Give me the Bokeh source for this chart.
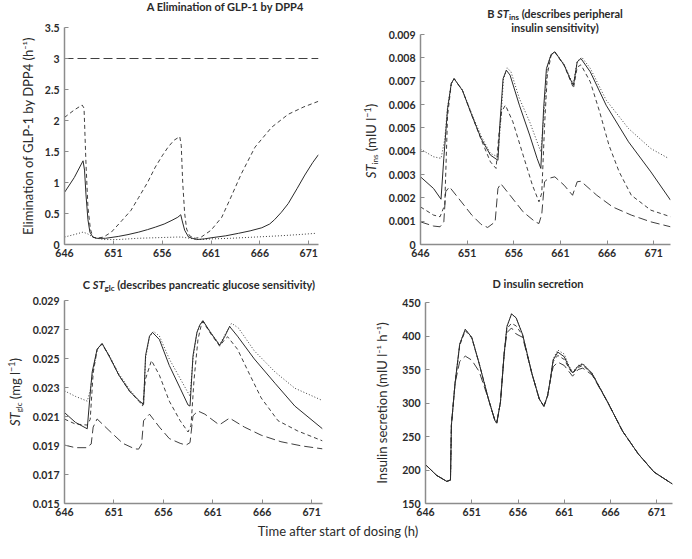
from bokeh.plotting import figure
from bokeh.models import FixedTicker, Div
from bokeh.layouts import row, column
from bokeh.embed import file_html
from bokeh.resources import INLINE

# ---------------- data ----------------
x_ticks = [646, 651, 656, 661, 666, 671]
x_tick_labels = ["646", "651", "656", "661", "666", "671"]

# Panel A: elimination of GLP-1 by DPP4 (h^-1)
tA_solid = [646, 647.0, 647.9, 648.05, 648.2, 648.4, 648.6, 648.9, 649.3, 650.2, 651.5, 652.5, 653.6, 654.5, 655.3,
            656.2, 657.0, 657.6, 657.9, 658.05, 658.3, 658.7, 659.5, 660.3, 661.1, 662.5, 663.8, 665.0, 666.2, 667.0,
            667.5, 668.2, 668.9, 669.8, 670.6, 671.4, 672]
A_solid = [0.84, 1.08, 1.35, 1.2, 0.8, 0.4, 0.2, 0.12, 0.1, 0.1, 0.13, 0.16, 0.2, 0.24, 0.28,
           0.33, 0.39, 0.44, 0.48, 0.38, 0.23, 0.12, 0.08, 0.09, 0.11, 0.14, 0.18, 0.22, 0.27, 0.33,
           0.4, 0.52, 0.66, 0.9, 1.12, 1.32, 1.45]
tA_dash = [646, 647.0, 647.8, 648.0, 648.2, 648.4, 648.65, 648.9, 649.3, 650.0, 650.8, 651.9, 652.8, 653.6, 654.5,
           655.3, 656.0, 656.6, 657.2, 657.8, 657.95, 658.1, 658.3, 658.5, 658.8, 659.4, 660.0, 661.0, 662.1, 663.0,
           664.1, 665.5, 667.2, 668.9, 670.5, 672]
A_dash = [2.05, 2.17, 2.25, 2.2, 1.3, 0.6, 0.25, 0.12, 0.1, 0.12, 0.2, 0.39, 0.55, 0.76, 1.0,
          1.25, 1.43, 1.57, 1.68, 1.74, 1.6, 1.0, 0.5, 0.25, 0.14, 0.1, 0.12, 0.23, 0.44, 0.75,
          1.14, 1.57, 1.89, 2.1, 2.22, 2.31]
tA_dot = [646, 647.0, 647.9, 648.4, 649.0, 650.0, 651.5, 653.5, 655.5, 657.5, 658.0, 658.8, 659.8, 661.0, 663.0,
          665.5, 668.0, 670.0, 671.7]
A_dot = [0.12, 0.16, 0.2, 0.17, 0.11, 0.08, 0.08, 0.1, 0.11, 0.12, 0.12, 0.1, 0.08, 0.09, 0.1,
         0.12, 0.14, 0.16, 0.18]
tA_long = [646, 672]
A_long = [3.0, 3.0]
A_yticks = [0, 0.5, 1, 1.5, 2, 2.5, 3, 3.5]
A_ylabels = ["0", "0.5", "1", "1.5", "2", "2.5", "3", "3.5"]

# Panel B: ST_ins (values x 0.001)
tB_solid = [646, 647.4, 648.2, 648.5, 648.9, 649.3, 649.6, 650.5, 651.5, 652.5, 653.5, 654.3, 654.5, 654.85, 655.2,
            655.6, 656.6, 657.7, 658.5, 658.9, 659.2, 659.5, 660.0, 660.4, 661.4, 662.1, 662.4, 662.8, 663.2, 664.2,
            665.9, 668.3, 670.7, 672.8]
B_solid = [2.9, 2.4, 1.94, 3.7, 5.8, 6.9, 7.11, 6.6, 5.54, 4.54, 3.83, 3.61, 5.1, 7.1, 7.47,
           7.26, 5.97, 4.69, 3.69, 3.26, 5.83, 7.54, 8.14, 8.26, 7.69, 7.04, 6.83, 7.83, 7.97, 7.4,
           5.97, 4.4, 3.11, 1.9]
tB_dash = [646, 647.4, 648.1, 648.6, 648.9, 649.3, 649.6, 650.5, 651.5, 652.5, 653.5, 654.1, 654.4, 654.7, 655.1,
           655.9, 657.0, 658.0, 658.7, 659.0, 659.3, 659.6, 660.0, 660.4, 661.4, 662.1, 662.4, 662.8, 663.2, 664.2,
           665.2, 666.2, 667.3, 668.6, 670.7, 672.8]
B_dash = [1.61, 1.26, 1.19, 1.7, 5.5, 6.9, 7.11, 6.6, 5.54, 4.5, 3.54, 3.26, 4.69, 5.7, 5.97,
          5.26, 3.83, 2.54, 1.83, 2.2, 5.1, 7.3, 8.1, 8.24, 7.67, 7.0, 6.7, 7.6, 7.7, 6.97,
          5.69, 4.26, 3.11, 2.11, 1.47, 1.19]
tB_dot = [646, 647.4, 648.2, 648.6, 648.9, 649.3, 649.6, 650.5, 651.5, 652.5, 653.5, 654.3, 654.6, 654.9, 655.3,
          655.7, 656.6, 657.7, 658.9, 659.3, 659.6, 660.0, 660.4, 661.4, 662.1, 662.4, 662.8, 663.3, 664.2, 665.9,
          668.3, 670.7, 672.5]
B_dot = [4.09, 3.76, 3.69, 4.5, 5.9, 6.9, 7.11, 6.62, 5.6, 4.65, 3.9, 3.76, 5.3, 7.1, 7.57,
         7.4, 6.26, 5.26, 3.97, 5.9, 7.6, 8.14, 8.26, 7.72, 7.1, 6.9, 7.85, 8.02, 7.55, 6.19,
         4.97, 4.11, 3.71]
tB_long = [646, 647.4, 648.1, 648.5, 648.7, 649.1, 650.1, 651.5, 652.5, 653.2, 654.0, 654.3, 654.6, 655.6, 657.0,
           658.3, 658.7, 659.0, 659.3, 659.7, 660.4, 661.4, 662.3, 662.8, 663.2, 664.9, 666.6, 668.6, 670.7, 672.8]
B_long = [0.97, 0.79, 0.76, 0.97, 2.26, 2.47, 1.97, 1.26, 0.86, 0.73, 0.97, 2.4, 2.61, 2.11, 1.4,
          0.97, 0.9, 1.3, 2.69, 2.83, 2.9, 2.54, 2.11, 2.69, 2.71, 2.11, 1.61, 1.26, 0.97, 0.76]
B_yticks = [0, 0.001, 0.002, 0.003, 0.004, 0.005, 0.006, 0.007, 0.008, 0.009]
B_ylabels = ["0", "0.001", "0.002", "0.003", "0.004", "0.005", "0.006", "0.007", "0.008", "0.009"]

# Panel C: ST_glc (values x 0.001)
tC_solid = [646, 647.1, 648.3, 648.55, 648.8, 649.3, 649.8, 650.5, 651.5, 652.6, 653.6, 654.0, 654.2, 654.6, 654.9,
            655.6, 656.6, 657.7, 658.5, 658.7, 659.0, 659.4, 659.7, 660.0, 660.8, 661.7, 662.2, 662.7, 663.5, 665.2,
            667.3, 669.3, 672.1]
C_solid = [21.27, 20.6, 20.15, 22.2, 24.07, 25.64, 26.04, 25.19, 23.85, 22.73, 22.06, 21.83, 25.2, 26.54, 26.8,
           26.31, 24.52, 22.95, 21.79, 21.72, 25.2, 26.8, 27.32, 27.61, 26.76, 25.91, 26.5, 27.21, 26.54, 24.97,
           23.29, 21.72, 20.15]
tC_dash = [646, 647.1, 648.3, 648.6, 648.9, 649.3, 649.8, 650.5, 651.5, 652.6, 653.6, 653.9, 654.2, 654.8, 655.6,
           656.6, 657.7, 658.5, 658.8, 659.1, 659.5, 659.8, 660.0, 660.8, 661.7, 662.2, 662.5, 663.5, 664.6, 665.9,
           667.6, 669.6, 672.1]
C_dash = [20.82, 20.48, 20.41, 20.8, 24.0, 25.6, 26.0, 25.19, 23.85, 22.73, 22.0, 21.72, 23.6, 24.86, 23.85,
          22.06, 20.71, 19.93, 20.4, 23.5, 26.3, 27.2, 27.55, 26.7, 25.85, 26.3, 26.5, 25.64, 24.08, 22.28,
          20.71, 20.0, 19.32]
tC_dot = [646, 647.1, 648.3, 648.6, 648.9, 649.3, 649.8, 650.5, 651.5, 652.6, 653.6, 654.0, 654.2, 654.6, 655.0,
          655.6, 656.6, 657.7, 658.7, 659.0, 659.4, 659.7, 660.0, 660.8, 661.7, 662.2, 662.9, 663.6, 665.2, 667.3,
          669.3, 672.1]
C_dot = [22.77, 22.39, 22.06, 22.8, 24.2, 25.64, 26.04, 25.25, 23.95, 22.85, 22.0, 21.94, 25.0, 26.5, 26.87,
         26.55, 24.97, 23.62, 22.39, 25.0, 26.8, 27.32, 27.61, 26.8, 25.95, 26.6, 27.43, 27.1, 25.53, 24.07,
         22.95, 22.1]
tC_long = [646, 647.1, 648.2, 648.7, 648.9, 649.3, 650.5, 651.9, 653.1, 653.5, 653.8, 654.0, 654.6, 655.6, 656.6,
           657.7, 658.3, 658.7, 659.0, 659.5, 660.2, 661.5, 661.7, 662.7, 664.2, 665.9, 667.9, 670.0, 672.1]
C_long = [19.03, 18.85, 18.85, 19.1, 20.27, 20.83, 20.04, 19.15, 18.77, 18.75, 19.1, 20.71, 21.16, 20.27, 19.48,
          19.15, 19.03, 19.2, 21.05, 21.38, 21.16, 20.5, 20.44, 20.89, 20.27, 19.71, 19.26, 18.97, 18.77]
C_yticks = [0.015, 0.017, 0.019, 0.021, 0.023, 0.025, 0.027, 0.029]
C_ylabels = ["0.015", "0.017", "0.019", "0.021", "0.023", "0.025", "0.027", "0.029"]

# Panel D: insulin secretion (mIU l^-1 h^-1)
tD = [646, 647.2, 648.3, 648.7, 648.8, 649.2, 649.7, 650.3, 651.0, 651.8, 652.8, 653.5, 653.7, 654.1, 654.5,
      654.8, 655.3, 655.8, 656.5, 657.5, 658.3, 658.8, 659.2, 659.5, 659.8, 660.3, 661.0, 661.5, 661.9, 662.5,
      663.0, 664.0, 665.7, 667.3, 669.0, 670.7, 672.7]
D_solid = [208, 192, 183, 185, 267, 330, 388, 410, 398, 359, 306, 274, 270, 301, 373,
           414, 433, 427, 402, 344, 306, 295, 311, 335, 364, 376, 369, 354, 345, 355,
           358, 344, 301, 258, 224, 197, 179]
D_dash = [208, 192, 183, 185, 267, 330, 386, 408, 397, 359, 306, 274, 270, 301, 373,
          411, 419, 415, 401, 344, 306, 295, 311, 335, 362, 371, 365, 352, 344, 353,
          356, 344, 301, 258, 224, 197, 179]
D_dot = [208, 192, 183, 185, 267, 330, 388, 410, 398, 359, 306, 274, 270, 301, 373,
         414, 433, 427, 402, 344, 306, 295, 311, 336, 366, 379, 373, 356, 346, 356,
         359, 345, 301, 258, 224, 197, 179]
D_long = [208, 192, 183, 185, 267, 330, 362, 370, 364, 347, 306, 274, 270, 301, 373,
          405, 412, 403, 398, 344, 306, 295, 311, 335, 354, 361, 356, 347, 340, 350,
          352, 342, 301, 258, 224, 197, 179]
D_yticks = [150, 200, 250, 300, 350, 400, 450]
D_ylabels = ["150", "200", "250", "300", "350", "400", "450"]

# ---------------- styling helpers ----------------
FONT = "Lato"
INK = "#2a2a2a"
AXIS = "#8c8c8c"
DASHES = {"solid": "solid", "dash": "4 3", "dot": "1 2", "long": "9 4"}
SUB = 'style="font-size:8px; vertical-align:-2px; line-height:0"'
SUP = 'style="font-size:9px; vertical-align:5px; line-height:0"'


def make_fig(w, h, bl, br, bt, bb, xend, yr, yticks, ylabels):
    p = figure(width=w, height=h, x_range=(646, xend), y_range=yr,
               output_backend="svg", toolbar_location=None,
               min_border_left=bl, min_border_right=br, min_border_top=bt, min_border_bottom=bb)
    p.outline_line_color = None
    p.xgrid.visible = False
    p.ygrid.visible = False
    p.background_fill_color = None
    p.border_fill_color = None
    p.xaxis.ticker = FixedTicker(ticks=x_ticks)
    p.xaxis.major_label_overrides = {float(k): v for k, v in zip(x_ticks, x_tick_labels)}
    p.yaxis.ticker = FixedTicker(ticks=yticks)
    p.yaxis.major_label_overrides = {float(k): v for k, v in zip(yticks, ylabels)}
    for ax in (p.xaxis, p.yaxis):
        ax.axis_line_color = AXIS
        ax.axis_line_width = 1.5
        ax.major_tick_line_color = AXIS
        ax.major_tick_in = 4
        ax.major_tick_out = 0
        ax.minor_tick_line_color = None
        ax.major_label_text_font = FONT
        ax.major_label_text_font_size = "10.5px"
        ax.major_label_text_font_style = "bold"
        ax.major_label_text_color = INK
        ax.axis_label_text_font = FONT
        ax.axis_label_text_font_size = "13px"
        ax.axis_label_text_font_style = "normal"
        ax.axis_label_text_color = INK
    p.xaxis.major_label_standoff = 4
    p.xaxis.axis_label_standoff = 0
    p.yaxis.major_label_standoff = 5
    return p


def draw(p, t, v, kind, scale=1.0):
    p.line([float(a) for a in t], [b * scale for b in v], line_color=INK,
           line_width=1.0 if kind == "solid" else 0.9, line_dash=DASHES[kind])


def title_div(html, w, h, shift, top, lh=13):
    inner = (f'<div style="position:relative; width:{w}px; height:{h}px">'
             f'<div style="position:absolute; left:{shift}px; top:{top}px; width:{w}px; text-align:center; '
             f'font-family:{FONT}; font-weight:bold; font-size:11px; line-height:{lh}px; color:{INK}; '
             f'white-space:nowrap">{html}</div></div>')
    return Div(text=inner, width=w, height=h, margin=(0, 0, 0, 0))


def ylabel_div(html, w, h, cx, cy):
    inner = (f'<div style="position:relative; width:{w}px; height:{h}px">'
             f'<div style="position:absolute; left:{cx}px; top:{cy}px; '
             f'transform:translate(-50%,-50%) rotate(-90deg); white-space:nowrap; '
             f'font-family:{FONT}; font-size:13px; color:{INK}">{html}</div></div>')
    return Div(text=inner, width=w, height=h, margin=(0, 0, 0, 0))


# ---------------- Panel A ----------------
pA = make_fig(338, 245, 64, 20, 6, 22, 672, (0, 3.5), A_yticks, A_ylabels)
draw(pA, tA_long, A_long, "long")
draw(pA, tA_dot, A_dot, "dot")
draw(pA, tA_dash, A_dash, "dash")
draw(pA, tA_solid, A_solid, "solid")
pA.yaxis.axis_label = "Elimination of GLP-1 by DPP4 (h\u207b\u00b9)"
pA.yaxis.axis_label_standoff = 6
tA = title_div("A Elimination of GLP-1 by DPP4", 338, 21, 56, 0)

# ---------------- Panel B ----------------
pB = make_fig(296, 238, 40, 6, 6, 22, 672.8, (0, 0.009), B_yticks, B_ylabels)
draw(pB, tB_long, B_long, "long", 0.001)
draw(pB, tB_dash, B_dash, "dash", 0.001)
draw(pB, tB_dot, B_dot, "dot", 0.001)
draw(pB, tB_solid, B_solid, "solid", 0.001)
tB = title_div(f"B <i>ST</i><span {SUB}>ins</span> (describes peripheral<br>insulin sensitivity)",
               338, 28, 48, 7, 14)
yB = ylabel_div(f"<i>ST</i><span {SUB}>ins</span> (mIU l<span {SUP}>\u22121</span>)", 42, 238, 33, 113)

# ---------------- Panel C ----------------
pC = make_fig(310, 228, 36, 16, 6, 19, 672.1, (0.015, 0.029), C_yticks, C_ylabels)
draw(pC, tC_long, C_long, "long", 0.001)
draw(pC, tC_dash, C_dash, "dash", 0.001)
draw(pC, tC_dot, C_dot, "dot", 0.001)
draw(pC, tC_solid, C_solid, "solid", 0.001)
tC = title_div(f"C <i>ST</i><span {SUB}>glc</span> (describes pancreatic glucose sensitivity)",
               338, 28, 30, 12)
yC = ylabel_div(f"<i>ST</i><span {SUB}>glc</span> (mg l<span {SUP}>\u22121</span>)", 28, 228, 15, 98)

# ---------------- Panel D ----------------
pD = make_fig(338, 226, 87, 4, 6, 19, 672.7, (150, 450), D_yticks, D_ylabels)
draw(pD, tD, D_long, "long")
draw(pD, tD, D_dash, "dash")
draw(pD, tD, D_dot, "dot")
draw(pD, tD, D_solid, "solid")
pD.yaxis.axis_label = "Insulin secretion (mIU l\u207b\u00b9 h\u207b\u00b9)"
pD.yaxis.axis_label_standoff = 9
tD_div = title_div("D insulin secretion", 338, 30, 31, 11)

xlabel = Div(text=(f'<div style="width:676px; text-align:center; font-family:{FONT}; font-size:13px; '
                   f'line-height:18px; color:{INK}">Time after start of dosing (h)</div>'),
             width=676, height=21, margin=(0, 0, 0, 0))

left_top = column(tA, pA)
right_top = column(tB, row(yB, pB))
left_bot = column(tC, row(yC, pC))
right_bot = column(tD_div, pD)
layout = column(row(left_top, right_top), row(left_bot, right_bot), xlabel)

with open("out.html", "w") as f:
    f.write(file_html(layout, INLINE))
